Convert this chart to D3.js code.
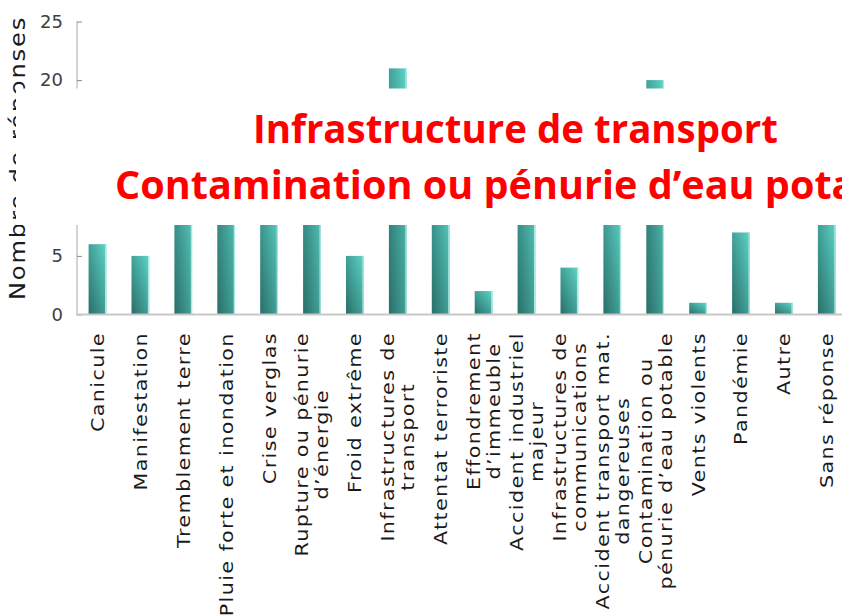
<!DOCTYPE html>
<html>
<head>
<meta charset="utf-8">
<script src="https://cdn.jsdelivr.net/npm/d3@7"></script>
<style>
  body { margin: 0; background: #ffffff; }
  svg { display: block; }
</style>
</head>
<body>
<svg id="chart"></svg>
<script>
const categories = [
    "Canicule", "Manifestation", "Tremblement terre", "Pluie forte et inondation",
    "Crise verglas", "Rupture ou pénurie\nd’énergie", "Froid extrême",
    "Infrastructures de\ntransport", "Attentat terroriste", "Effondrement\nd’immeuble",
    "Accident industriel\nmajeur", "Infrastructures de\ncommunications",
    "Accident transport mat.\ndangereuses", "Contamination ou\npénurie d’eau potable",
    "Vents violents", "Pandémie", "Autre", "Sans réponse"
];
const responses = [6, 5, 12, 15, 10, 14, 5, 21, 11, 2, 13, 4, 9, 20, 1, 7, 1, 8];
const yTicks = [0, 5, 10, 15, 20, 25];
const yTitle = "Nombre de réponses";
const highlightLines = ["Infrastructure de transport", "Contamination ou pénurie d’eau potable"];

const width = 842, height = 616;
const stretch = 1.15; // widen the sans glyphs a little

const svg = d3.select("#chart")
    .attr("width", width)
    .attr("height", height);

const defs = svg.append("defs");
const grad = defs.append("linearGradient")
    .attr("id", "barGrad")
    .attr("x1", 0).attr("y1", 1)
    .attr("x2", 1).attr("y2", 0);
grad.selectAll("stop")
    .data([
        { offset: "0%", color: "#2a6e68" },
        { offset: "50%", color: "#42a198" },
        { offset: "100%", color: "#5fd4c8" }
    ])
    .enter().append("stop")
    .attr("offset", d => d.offset)
    .attr("stop-color", d => d.color);

const step = 42.9;
const xscale = d3.scaleBand()
    .domain(categories)
    .range([76, 76 + step * categories.length])
    .paddingInner(0.587)
    .paddingOuter(0.2935);

const yscale = d3.scaleLinear()
    .domain([0, 25])
    .range([314.5, 21.5]);

// bars
svg.selectAll(".bar")
    .data(categories)
    .enter().append("rect")
    .attr("class", "bar")
    .attr("x", d => xscale(d))
    .attr("y", (d, i) => yscale(responses[i]))
    .attr("width", xscale.bandwidth())
    .attr("height", (d, i) => yscale(0) - yscale(responses[i]))
    .attr("fill", "url(#barGrad)");

// light edge on the right side of each bar
svg.selectAll(".edge")
    .data(categories)
    .enter().append("rect")
    .attr("class", "edge")
    .attr("x", d => xscale(d) + xscale.bandwidth() - 1.3)
    .attr("y", (d, i) => yscale(responses[i]))
    .attr("width", 1.3)
    .attr("height", (d, i) => yscale(0) - yscale(responses[i]))
    .attr("fill", "#a9e9e2");

// y axis
const yAxis = svg.append("g")
    .attr("transform", "translate(77,0)")
    .call(d3.axisLeft(yscale).tickValues(yTicks).tickSize(-5).tickPadding(14));
yAxis.select(".domain")
    .attr("d", `M0,${yscale(25)}V${yscale(0)}`)
    .attr("stroke", "#d4d4d4")
    .attr("stroke-width", 2);
yAxis.selectAll(".tick line")
    .attr("stroke", "#8c8c8c")
    .attr("stroke-width", 1);
yAxis.selectAll(".tick text")
    .attr("font-family", "DejaVu Sans")
    .attr("font-size", 18)
    .attr("fill", "#404040");

// x axis line
svg.append("line")
    .attr("x1", 76).attr("x2", xscale.range()[1])
    .attr("y1", yscale(0)).attr("y2", yscale(0))
    .attr("stroke", "#c8c8c8")
    .attr("stroke-width", 2);

// category labels, rotated, multi-line centered
const labelTop = 332;
const lineGap = 20;
categories.forEach(cat => {
    const lines = cat.split("\n");
    const cx = xscale(cat) + xscale.bandwidth() / 2;
    const g = svg.append("g");
    const texts = lines.map(line => g.append("text")
        .attr("font-family", "DejaVu Sans")
        .attr("font-size", 18)
        .attr("letter-spacing", 1.2)
        .attr("fill", "#1a1a1a")
        .attr("text-anchor", "middle")
        .attr("dy", "0.36em")
        .text(line));
    const maxW = d3.max(texts, t => t.node().getComputedTextLength()) * stretch;
    const cy = labelTop + maxW / 2;
    texts.forEach((t, i) => {
        const x = cx + (i - (lines.length - 1) / 2) * lineGap;
        t.attr("transform", `translate(${x},${cy}) rotate(-90) scale(${stretch},1)`);
    });
});

// y axis title
svg.append("text")
    .attr("transform", `translate(25,158) rotate(-90) scale(${stretch},1)`)
    .attr("font-family", "DejaVu Sans")
    .attr("font-size", 21)
    .attr("letter-spacing", 1.6)
    .attr("fill", "#1a1a1a")
    .attr("text-anchor", "middle")
    .text(yTitle);

// white overlay box with the highlighted answers
svg.append("rect")
    .attr("x", 16)
    .attr("y", 88.5)
    .attr("width", width - 16)
    .attr("height", 225 - 88.5)
    .attr("fill", "#ffffff");

const hlWidths = [525, 801];
const hlBase = [143, 199];
highlightLines.forEach((line, i) => {
    svg.append("text")
        .attr("x", 515.5)
        .attr("y", hlBase[i])
        .attr("text-anchor", "middle")
        .attr("font-family", "Open Sans")
        .attr("font-weight", "bold")
        .attr("font-size", 39)
        .attr("fill", "#ff0000")
        .attr("textLength", hlWidths[i])
        .attr("lengthAdjust", "spacingAndGlyphs")
        .text(line);
});
</script>
</body>
</html>
